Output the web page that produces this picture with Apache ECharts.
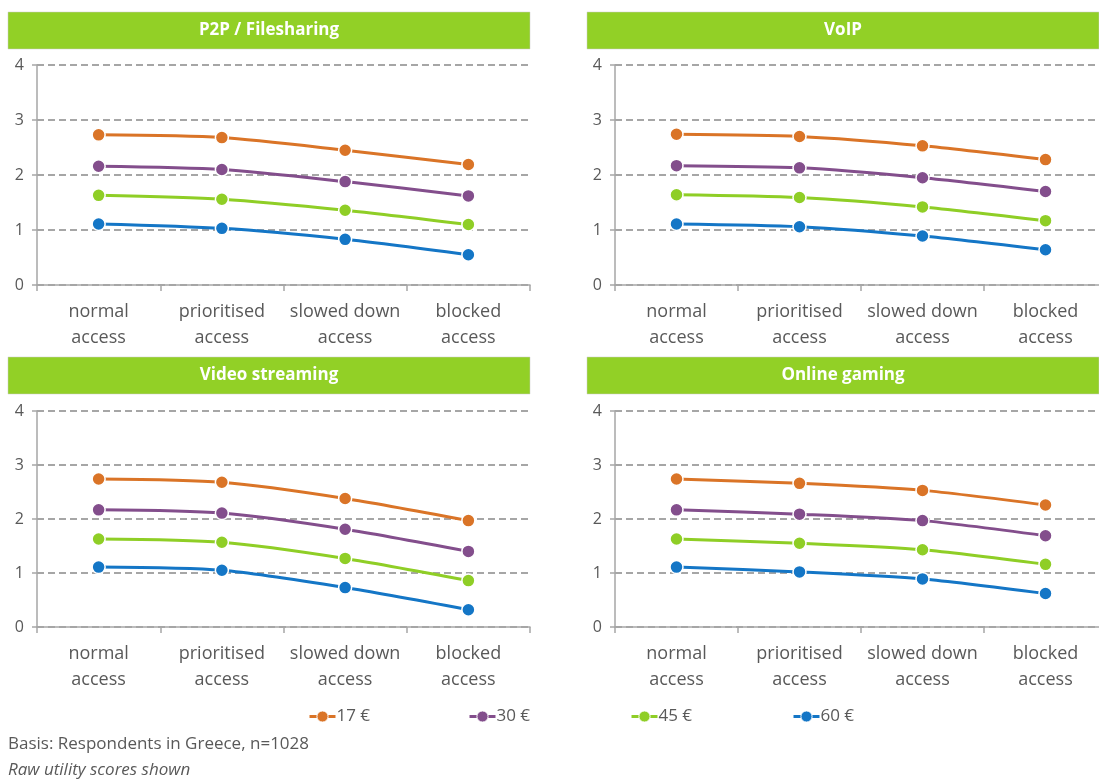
<!DOCTYPE html>
<html>
<head>
<meta charset="utf-8">
<script src="https://cdn.jsdelivr.net/npm/echarts@6/dist/echarts.min.js"></script>
<style>
  html, body { margin: 0; padding: 0; background: #fff; }
  #chart { width: 1099px; height: 783px; }
</style>
</head>
<body>
<div id="chart"></div>
<script>
// Access types on the x axis and price levels as series
const categories = ['normal\naccess', 'prioritised\naccess', 'slowed down\naccess', 'blocked\naccess'];
const yTicks = [0, 1, 2, 3, 4];
const priceLevels = ['17 €', '30 €', '45 €', '60 €'];
const panelTitles = ['P2P / Filesharing', 'VoIP', 'Video streaming', 'Online gaming'];

// Raw utility scores per panel, one array per price level
const p2p17 = [2.73, 2.68, 2.45, 2.19];
const p2p30 = [2.16, 2.10, 1.88, 1.62];
const p2p45 = [1.63, 1.56, 1.36, 1.10];
const p2p60 = [1.11, 1.03, 0.83, 0.55];

const voip17 = [2.74, 2.70, 2.53, 2.28];
const voip30 = [2.17, 2.13, 1.95, 1.70];
const voip45 = [1.64, 1.59, 1.42, 1.17];
const voip60 = [1.11, 1.06, 0.89, 0.64];

const video17 = [2.74, 2.68, 2.38, 1.97];
const video30 = [2.17, 2.11, 1.81, 1.40];
const video45 = [1.63, 1.57, 1.27, 0.86];
const video60 = [1.11, 1.05, 0.73, 0.32];

const gaming17 = [2.74, 2.66, 2.53, 2.26];
const gaming30 = [2.17, 2.09, 1.97, 1.69];
const gaming45 = [1.63, 1.55, 1.43, 1.16];
const gaming60 = [1.11, 1.02, 0.89, 0.62];

const panelData = [
  [p2p17, p2p30, p2p45, p2p60],
  [voip17, voip30, voip45, voip60],
  [video17, video30, video45, video60],
  [gaming17, gaming30, gaming45, gaming60]
];

const colors = ['#DA7427', '#834E8C', '#8FCE26', '#1476C6'];
const textGray = '#595959';
const axisGray = '#A6A6A6';
const fontFamily = '"Open Sans", "Noto Sans", sans-serif';

// Panel geometry: grid boxes and title bars (right-hand panels run past the edge)
const grids = [
  { left: 37,  top: 65,  width: 493, height: 220 },
  { left: 615, top: 65,  width: 492, height: 220 },
  { left: 37,  top: 411, width: 493, height: 216 },
  { left: 615, top: 411, width: 492, height: 216 }
];
const bars = [
  { x: 8,   y: 12,  w: 522, h: 37 },
  { x: 587, y: 12,  w: 512, h: 37 },
  { x: 8,   y: 357, w: 522, h: 37 },
  { x: 587, y: 357, w: 512, h: 37 }
];

const xAxes = [], yAxes = [], series = [], graphics = [];

grids.forEach((g, i) => {
  xAxes.push({
    type: 'category',
    gridIndex: i,
    data: categories,
    boundaryGap: true,
    axisLine: { show: true, lineStyle: { color: axisGray, width: 1.5 } },
    axisTick: { show: true, length: 6, lineStyle: { color: axisGray, width: 1.5 } },
    axisLabel: {
      color: textGray, fontSize: 18, fontFamily: fontFamily,
      lineHeight: 26, margin: 14, interval: 0
    },
    splitLine: { show: false }
  });
  yAxes.push({
    type: 'value',
    gridIndex: i,
    min: yTicks[0],
    max: yTicks[yTicks.length - 1],
    interval: 1,
    axisLine: { show: true, lineStyle: { color: axisGray, width: 1.5 } },
    axisTick: { show: true, length: 5, lineStyle: { color: axisGray, width: 1.5 } },
    axisLabel: { color: textGray, fontSize: 16, fontFamily: fontFamily, margin: 13 },
    splitLine: { show: true, lineStyle: { color: axisGray, width: 2, type: [7, 4] } }
  });

  panelData[i].forEach((vals, s) => {
    series.push({
      name: priceLevels[s],
      type: 'line',
      xAxisIndex: i,
      yAxisIndex: i,
      data: vals,
      smooth: 0.25,
      symbol: 'circle',
      symbolSize: 13,
      lineStyle: { color: colors[s], width: 3 },
      itemStyle: { color: colors[s], borderColor: '#fff', borderWidth: 1.5 },
      emphasis: { disabled: true },
      z: 10 - s
    });
  });

  const b = bars[i];
  graphics.push({
    type: 'rect',
    shape: { x: b.x, y: b.y, width: b.w, height: b.h },
    style: { fill: '#92D026', stroke: '#C8C8C8', lineWidth: 0.5 }
  });
  graphics.push({
    type: 'text',
    x: b.x + b.w / 2,
    y: b.y + b.h / 2,
    style: {
      text: panelTitles[i],
      fill: '#fff',
      font: 'bold 17px ' + fontFamily,
      align: 'center',
      verticalAlign: 'middle'
    }
  });
});

// Source notes under the chart
graphics.push({
  type: 'text', left: 8, top: 736,
  style: { text: 'Basis: Respondents in Greece, n=1028', fill: textGray, font: '17px ' + fontFamily }
});
graphics.push({
  type: 'text', left: 8, top: 762,
  style: { text: 'Raw utility scores shown', fill: textGray, font: 'italic 17px ' + fontFamily }
});

// One legend per price level, spaced evenly
const legendLefts = [303, 463, 625, 787];
const legends = priceLevels.map((name, k) => ({
  data: [name],
  left: legendLefts[k],
  top: 703,
  itemWidth: 26,
  itemHeight: 14,
  itemGap: 4,
  selectedMode: false,
  lineStyle: { width: 3 },
  itemStyle: { borderColor: '#fff', borderWidth: 1 },
  textStyle: { color: textGray, fontSize: 17, fontFamily: fontFamily, padding: [0, 0, 0, -4] }
}));

const chart = echarts.init(document.getElementById('chart'));
chart.setOption({
  animation: false,
  color: colors,
  grid: grids.map(g => Object.assign({ containLabel: false, outerBoundsMode: 'none' }, g)),
  xAxis: xAxes,
  yAxis: yAxes,
  legend: legends,
  series: series,
  graphic: graphics
});
</script>
</body>
</html>
